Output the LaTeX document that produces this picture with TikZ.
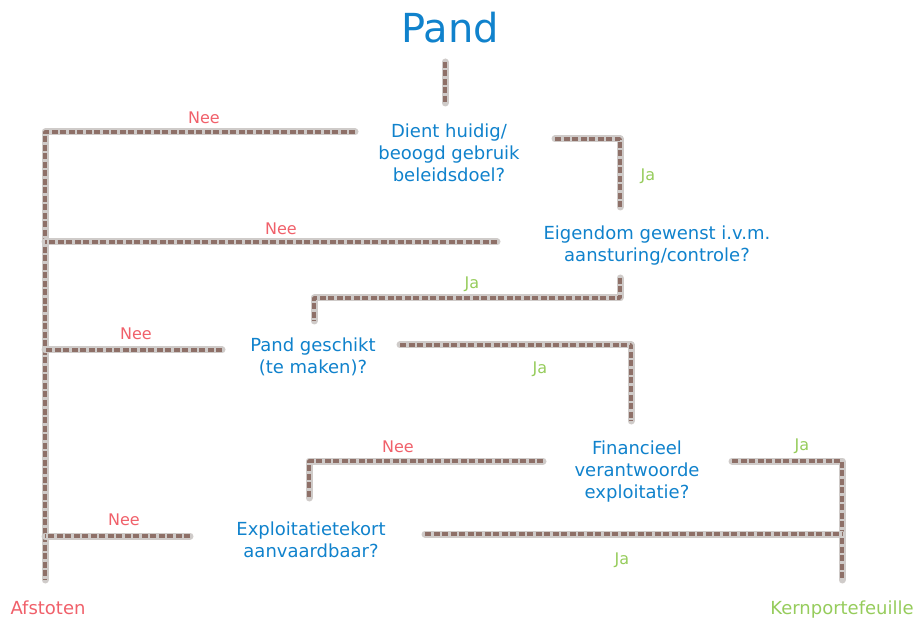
\documentclass[tikz,border=0pt]{standalone}
\usepackage{fontspec}
\setmainfont{DejaVu Sans}
\usetikzlibrary{calc}
\definecolor{qblue}{HTML}{1082CC}
\definecolor{nred}{HTML}{F0606A}
\definecolor{jgreen}{HTML}{96CC5C}
\definecolor{lgray}{HTML}{CFCBC9}
\definecolor{lbrown}{HTML}{8E7068}
\begin{document}
\begin{tikzpicture}[x=1pt,y=-1pt,
 q/.style={text=qblue, font=\fontsize{18}{22}\selectfont, align=center, inner sep=0pt},
 nee/.style={text=nred, font=\fontsize{16}{19}\selectfont, inner sep=0pt},
 ja/.style={text=jgreen, font=\fontsize{16}{19}\selectfont, inner sep=0pt},
 conn/.style={draw=lgray, line width=7pt, line cap=round, line join=round,
   postaction={draw=lbrown, line width=3.6pt, dash pattern=on 6pt off 2.5pt, line cap=butt}},
]
\useasboundingbox (0,0) rectangle (916,620);
% nodes
\node[text=qblue, font=\fontsize{40}{48}\selectfont, inner sep=0pt] (pand) at (450,28) {Pand};
\node[q] (q1) at (449,153) {Dient huidig/\\beoogd gebruik\\beleidsdoel?};
\node[q] (q2) at (657,246) {Eigendom gewenst i.v.m.\\aansturing/controle?};
\node[q] (q3) at (313,357) {Pand geschikt\\(te maken)?};
\node[q] (q4) at (637,472) {Financieel\\verantwoorde\\exploitatie?};
\node[q] (q5) at (311,540) {Exploitatietekort\\aanvaardbaar?};
\node[text=nred, font=\fontsize{18}{22}\selectfont, inner sep=0pt] (af) at (48,608) {Afstoten};
\node[text=jgreen, font=\fontsize{18}{22}\selectfont, inner sep=0pt] (kp) at (842,610) {Kernportefeuille};
% coordinates
\coordinate (s1) at (445,62);
\coordinate (s2) at (445,103);
\coordinate (spine0) at (45,132);
\coordinate (afEnd) at (45,580);
\coordinate (kpEnd) at (842,580);
\coordinate (q1n) at (355,132);
\coordinate (q1j) at (555,139);
\coordinate (q2top) at (620,207);
\coordinate (q2n) at (497,242);
\coordinate (q2j) at (620,278);
\coordinate (q3top) at (314,321);
\coordinate (q3n) at (222,350);
\coordinate (q3j) at (400,345);
\coordinate (q4top) at (631,421);
\coordinate (q4n) at (543,461);
\coordinate (q5top) at (309,498);
\coordinate (q4j) at (732,461);
\coordinate (q5n) at (190,536);
\coordinate (q5j) at (425,534);
% connectors
\draw[conn] (s1) -- (s2);
\draw[conn] (q1n) -- (spine0) -- (afEnd);
\draw[conn] (q1j) -| (q2top);
\draw[conn] (q2n) -- (q2n -| spine0);
\draw[conn] (q2j) -- ($(q2j)+(0,20)$) -| (q3top);
\draw[conn] (q3n) -- (q3n -| spine0);
\draw[conn] (q3j) -| (q4top);
\draw[conn] (q4n) -| (q5top);
\draw[conn] (q4j) -| (kpEnd);
\draw[conn] (q5n) -- (q5n -| spine0);
\draw[conn] (q5j) -- (q5j -| kpEnd);
% labels
\node[nee] at (204,118) {Nee};
\node[nee] at (281,229) {Nee};
\node[nee] at (136,334) {Nee};
\node[nee] at (398,447) {Nee};
\node[nee] at (124,520) {Nee};
\node[ja] at (648,176) {Ja};
\node[ja] at (472,284) {Ja};
\node[ja] at (540,369) {Ja};
\node[ja] at (802,446) {Ja};
\node[ja] at (622,560) {Ja};
\end{tikzpicture}
\end{document}
